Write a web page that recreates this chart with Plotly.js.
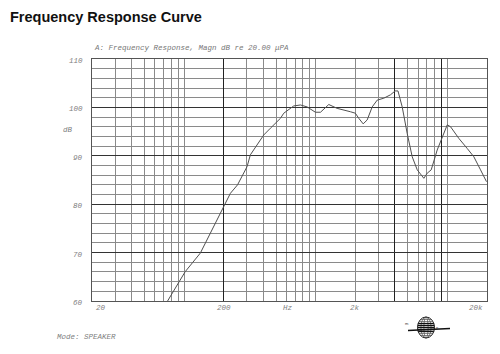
<!DOCTYPE html>
<html>
<head>
<meta charset="utf-8">
<script src="https://cdn.plot.ly/plotly-3.0.1.min.js"></script>
<style>html,body{margin:0;padding:0;background:#fff;}#chart{width:500px;height:354px;}</style>
</head>
<body>
<div id="chart"></div>
<script>
// ---- data ----
const freqHz = [75, 102, 133, 163, 200, 225, 255, 301, 319, 403, 453, 540, 572, 681, 766, 861, 995, 1087, 1257, 1455, 1837, 2000, 2124, 2294, 2460, 2686, 2931, 3290, 3698, 4010, 4216, 4540, 4955, 5408, 5903, 6627, 7028, 7539, 8372, 9140, 9980, 10575, 12220, 14160, 15890, 17860, 19830];
const magnDb = [60, 66.05, 69.9, 74.7, 79.8, 82.25, 84, 87.75, 90.2, 94.3, 95.7, 97.75, 98.8, 100.3, 100.5, 100.1, 99, 99, 100.6, 99.8, 99.1, 98.8, 97.75, 96.6, 97.4, 100.1, 101.5, 101.9, 102.6, 103.4, 103.4, 100.1, 94.6, 89.8, 87.1, 85.35, 86.4, 87.1, 91.2, 93.95, 96.4, 96, 93.6, 91.5, 89.8, 87.1, 84.65];

const xTickVals = [20, 200, 2000, 20000];
const xTickText = ['20', '200', '2k', '20k'];
const yTickVals = [60, 70, 80, 90, 100, 110];
const yTickText = ['60', '70', '80', '90', '100', '110'];
const xMinorGrid = [30,40,50,60,70,80,90,100,200,300,400,500,600,700,800,900,1000,2000,3000,4000,5000,6000,7000,8000,9000,10000];
const xDarkGrid = [200, 4000, 9000];

const titleText = 'Frequency Response Curve';
const subTitleText = 'A: Frequency Response, Magn dB re 20.00 \u03bcPA';
const modeText = 'Mode: SPEAKER';

// ---- layout helpers (pixel -> paper) ----
const L = 92, R = 487, T = 59, B = 301;
const PX = px => (px - L) / (R - L);
const PY = py => (B - py) / (B - T);

const monoFont = {family: '"Liberation Mono", "DejaVu Sans Mono", monospace', size: 7.5, color: '#808080', style: 'italic'};

const annotations = [];
annotations.push({xref:'paper', yref:'paper', x:PX(92), y:PY(48), xanchor:'left', yanchor:'middle', text: subTitleText, showarrow:false, font: Object.assign({}, monoFont, {color:'#777'})});
annotations.push({xref:'paper', yref:'paper', x:PX(55), y:PY(337), xanchor:'left', yanchor:'middle', text: modeText, showarrow:false, font: monoFont});
annotations.push({xref:'paper', yref:'paper', x:PX(68), y:PY(130), xanchor:'center', yanchor:'middle', text: 'dB', showarrow:false, font: monoFont});
annotations.push({xref:'paper', yref:'paper', x:PX(288), y:PY(308), xanchor:'center', yanchor:'middle', text: 'Hz', showarrow:false, font: monoFont});
xTickVals.forEach((v, i) => {
  const first = i === 0, last = i === xTickVals.length - 1;
  annotations.push({xref:'x', yref:'paper', x: Math.log10(v), y: PY(308), xanchor: first ? 'left' : (last ? 'right' : 'center'), xshift: first ? 2 : (last ? -2 : 0), yanchor:'middle', text: xTickText[i], showarrow:false, font: monoFont});
});
yTickVals.forEach((v, i) => {
  annotations.push({xref:'paper', yref:'y', x: PX(85), y: v, yshift: -2, xanchor:'right', yanchor:'middle', text: yTickText[i], showarrow:false, font: monoFont});
});
// logo letters
annotations.push({xref:'paper', yref:'paper', x:PX(411), y:PY(328), text:'m', showarrow:false, font:{family:'Liberation Sans', size:4, color:'#333'}});
annotations.push({xref:'paper', yref:'paper', x:PX(441), y:PY(332), text:'e', showarrow:false, font:{family:'Liberation Sans', size:4, color:'#333'}});

// ---- logo shapes ----
const shapes = [];
const cx = 426, cy = 327.5, rx = 8.5, ry = 10.5;
shapes.push({type:'circle', xref:'paper', yref:'paper', x0:PX(cx-rx), x1:PX(cx+rx), y0:PY(cy+ry), y1:PY(cy-ry), line:{color:'#222', width:1}});
[0.6, 0.25].forEach(f => {
  shapes.push({type:'circle', xref:'paper', yref:'paper', x0:PX(cx-rx*f), x1:PX(cx+rx*f), y0:PY(cy+ry), y1:PY(cy-ry), line:{color:'#444', width:0.7}});
});
for (let dy = -8; dy <= 8; dy += 2) {
  const w = rx * Math.sqrt(Math.max(0, 1 - (dy/ry)*(dy/ry)));
  const dark = Math.abs(dy) <= 5;
  shapes.push({type:'line', xref:'paper', yref:'paper', x0:PX(cx-w), x1:PX(cx+w), y0:PY(cy+dy), y1:PY(cy+dy), line:{color: dark ? '#111' : '#555', width: dark ? 1.3 : 0.7}});
}
shapes.push({type:'line', xref:'paper', yref:'paper', x0:PX(408), x1:PX(450), y0:PY(330.5), y1:PY(328.5), line:{color:'#111', width:1.6}});

const trace = {
  x: freqHz, y: magnDb, type:'scatter', mode:'lines',
  line:{color:'#505050', width:1},
  hoverinfo:'skip'
};

const layout = {
  width:500, height:354,
  margin:{l:L, r:500-R, t:T, b:354-B},
  paper_bgcolor:'#fff', plot_bgcolor:'#fff',
  showlegend:false,
  title:{text: titleText, xref:'container', yref:'container', x:10/500, y:1-17/354, xanchor:'left', yanchor:'middle',
         font:{family:'"Liberation Sans", Arial, sans-serif', size:14.5, weight:'bold', color:'#111'}},
  xaxis:{type:'log', range:[Math.log10(20), Math.log10(20000)], tickmode:'array', tickvals: xDarkGrid,
         showticklabels:false, ticks:'', showgrid:true, gridcolor:'#222', gridwidth:1,
         minor:{tickmode:'array', tickvals: xMinorGrid, showgrid:true, gridcolor:'#8a8a8a', gridwidth:1, ticks:''},
         showline:true, mirror:true, linecolor:'#555', linewidth:1, zeroline:false, fixedrange:true},
  yaxis:{range:[60,110], tickmode:'array', tickvals: yTickVals, showticklabels:false, ticks:'',
         showgrid:true, gridcolor:'#333', gridwidth:1,
         minor:{dtick:2, tick0:60, showgrid:true, gridcolor:'#8a8a8a', gridwidth:1, ticks:''},
         showline:true, mirror:true, linecolor:'#555', linewidth:1, zeroline:false, fixedrange:true},
  annotations: annotations,
  shapes: shapes
};

Plotly.newPlot('chart', [trace], layout, {staticPlot:true, displayModeBar:false});
</script>
</body>
</html>
